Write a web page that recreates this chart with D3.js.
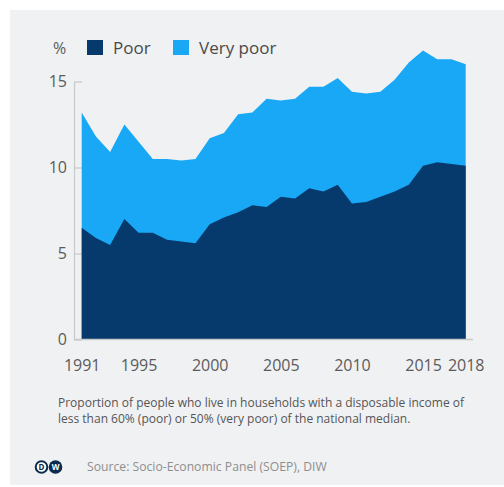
<!DOCTYPE html>
<html>
<head>
<meta charset="utf-8">
<script src="https://cdn.jsdelivr.net/npm/d3@7"></script>
<style>
  html, body { margin: 0; padding: 0; background: #ffffff; }
  svg { display: block; font-family: "Open Sans", sans-serif; }
</style>
</head>
<body>
<svg id="chart" width="504" height="487"></svg>
<script>
// Survey years
const years = [1991, 1992, 1993, 1994, 1995, 1996, 1997, 1998, 1999, 2000,
               2001, 2002, 2003, 2004, 2005, 2006, 2007, 2008, 2009, 2010,
               2011, 2012, 2013, 2014, 2015, 2016, 2017, 2018];

// Share of population, in %
const poorShare = [6.5, 5.9, 5.5, 7.0, 6.2, 6.2, 5.8, 5.7, 5.6, 6.7,
                   7.1, 7.4, 7.8, 7.7, 8.3, 8.2, 8.8, 8.6, 9.0, 7.9,
                   8.0, 8.3, 8.6, 9.0, 10.1, 10.3, 10.2, 10.1];
const veryPoorShare = [13.2, 11.8, 10.9, 12.5, 11.5, 10.5, 10.5, 10.4, 10.5, 11.7,
                       12.0, 13.1, 13.2, 14.0, 13.9, 14.0, 14.7, 14.7, 15.2, 14.4,
                       14.3, 14.4, 15.1, 16.1, 16.8, 16.3, 16.3, 16.0];

const yTicks = [0, 5, 10, 15];
const xTicks = [1991, 1995, 2000, 2005, 2010, 2015, 2018];
const legendLabels = ["Poor", "Very poor"];
const noteLines = [
  "Proportion of people who live in households with a disposable income of",
  "less than 60% (poor) or 50% (very poor) of the national median."
];

const colors = { poor: "#073a6c", veryPoor: "#19a8f5" };

const svg = d3.select("#chart");

// card background
svg.append("rect")
  .attr("x", 10).attr("y", 10)
  .attr("width", 494).attr("height", 475)
  .attr("fill", "#f0f1f3");

const x = d3.scaleLinear().domain([1991, 2018]).range([81.7, 465.7]);
const y = d3.scaleLinear().domain([0, 15]).range([339.5, 81.5]);

const axisX = 74;

// y axis
const yAxis = svg.append("g")
  .attr("transform", `translate(${axisX},0)`)
  .call(d3.axisLeft(y).tickValues(yTicks).tickSize(-8).tickSizeOuter(0).tickPadding(7));
yAxis.select(".domain").attr("stroke", "#c8c9cb").attr("stroke-width", 1.2);
yAxis.selectAll(".tick line").attr("stroke", "#c8c9cb").attr("stroke-width", 1.2);
yAxis.selectAll(".tick text")
  .attr("fill", "#5b5b5b")
  .style("font-size", "16px")
  .style("font-family", "'Open Sans', sans-serif");

const rows = years.map((yr, i) => ({ year: yr, poor: poorShare[i], veryPoor: veryPoorShare[i] }));

// light area (upper series), then dark area over it
svg.append("path")
  .datum(rows)
  .attr("fill", colors.veryPoor)
  .attr("d", d3.area().x(d => x(d.year)).y0(y(0)).y1(d => y(d.veryPoor)));

svg.append("path")
  .datum(rows)
  .attr("fill", colors.poor)
  .attr("d", d3.area().x(d => x(d.year)).y0(y(0)).y1(d => y(d.poor)));

// baseline
svg.append("line")
  .attr("x1", axisX).attr("x2", 473)
  .attr("y1", y(0)).attr("y2", y(0))
  .attr("stroke", "#c8c9cb").attr("stroke-width", 1.5);

// x axis labels
const xAxis = svg.append("g")
  .attr("transform", `translate(0,${y(0)})`)
  .call(d3.axisBottom(x).tickValues(xTicks).tickFormat(d3.format("d")).tickSize(0).tickPadding(20));
xAxis.select(".domain").remove();
xAxis.selectAll(".tick text")
  .attr("fill", "#5b5b5b")
  .style("font-size", "16px")
  .style("font-family", "'Open Sans', sans-serif");

// unit + legend
svg.append("text")
  .attr("x", 53).attr("y", 54)
  .attr("fill", "#5b5b5b")
  .style("font-size", "16px")
  .text("%");

const legend = svg.append("g");
const legendItems = [
  { label: legendLabels[0], color: colors.poor, x: 87 },
  { label: legendLabels[1], color: colors.veryPoor, x: 173 }
];
legendItems.forEach(item => {
  legend.append("rect")
    .attr("x", item.x).attr("y", 40)
    .attr("width", 16).attr("height", 15)
    .attr("fill", item.color);
  legend.append("text")
    .attr("x", item.x + 26).attr("y", 54)
    .attr("fill", "#4a4a4a")
    .style("font-size", "17px")
    .text(item.label);
});

// note, one text element per line
svg.selectAll("text.note")
  .data(noteLines)
  .join("text")
  .attr("class", "note")
  .attr("x", 58)
  .attr("y", (d, i) => 406.5 + i * 16.5)
  .attr("fill", "#555555")
  .style("font-size", "12px")
  .text(d => d);

// DW mark
const logo = svg.append("g");
logo.append("circle").attr("cx", 41.5).attr("cy", 467).attr("r", 5.8)
  .attr("fill", "#ffffff").attr("stroke", "#0a2a4f").attr("stroke-width", 2);
logo.append("circle").attr("cx", 55.5).attr("cy", 467).attr("r", 6.8)
  .attr("fill", "#0a2a4f");
logo.append("text").attr("x", 41.5).attr("y", 470)
  .attr("text-anchor", "middle").attr("fill", "#0a2a4f")
  .style("font-size", "8px").style("font-weight", "bold").text("D");
logo.append("text").attr("x", 55.5).attr("y", 470)
  .attr("text-anchor", "middle").attr("fill", "#ffffff")
  .style("font-size", "8px").style("font-weight", "bold").text("W");

// source
svg.append("text")
  .attr("x", 87).attr("y", 471)
  .attr("fill", "#8e8e8e")
  .style("font-size", "12.2px")
  .text("Source: Socio-Economic Panel (SOEP), DIW");
</script>
</body>
</html>
